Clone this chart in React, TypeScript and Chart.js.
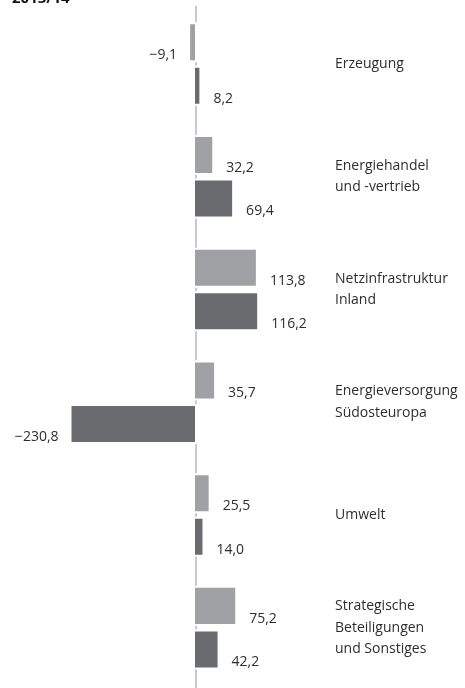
import React, { useEffect, useRef } from "react";
import { Chart, registerables } from "chart.js";

Chart.register(...registerables);

const categories: string[][] = [
  ["Erzeugung"],
  ["Energiehandel", "und -vertrieb"],
  ["Netzinfrastruktur", "Inland"],
  ["Energieversorgung", "Südosteuropa"],
  ["Umwelt"],
  ["Strategische", "Beteiligungen", "und Sonstiges"],
];
const series2012: number[] = [-9.1, 32.2, 113.8, 35.7, 25.5, 75.2];
const series2013: number[] = [8.2, 69.4, 116.2, -230.8, 14.0, 42.2];
const seriesNames: string[] = ["2012/13", "2013/14"];
const titleText = "2013/14";

const LIGHT = "#a0a1a4";
const DARK = "#6a6b6f";
const FONT = "'Open Sans', 'Noto Sans', sans-serif";

function fmt(v: number): string {
  const s = Math.abs(v).toFixed(1).replace(".", ",");
  return v < 0 ? "\u2212" + s : s;
}

export default function App() {
  const ref = useRef<HTMLCanvasElement | null>(null);

  useEffect(() => {
    if (!ref.current) return;
    const decor = {
      id: "decor",
      beforeDatasetsDraw(chart: any) {
        const ctx = chart.ctx;
        const x = chart.scales.x.getPixelForValue(0);
        ctx.save();
        ctx.fillStyle = "#c9c9c9";
        ctx.fillRect(x, 6, 2, 688 - 6);
        ctx.fillStyle = "#ffffff";
        chart.data.datasets.forEach((_: any, di: number) => {
          chart.getDatasetMeta(di).data.forEach((el: any) => {
            const p = el.getProps(["x", "y", "base", "height"], true);
            const l = Math.min(p.x, p.base);
            const r = Math.max(p.x, p.base);
            ctx.fillRect(l - 2, p.y - p.height / 2 - 2, r - l + 6, p.height + 4);
          });
        });
        ctx.restore();
      },
      afterDatasetsDraw(chart: any) {
        const ctx = chart.ctx;
        ctx.save();
        ctx.font = `14px ${FONT}`;
        ctx.fillStyle = "#2e2e2e";
        ctx.textBaseline = "middle";
        chart.data.datasets.forEach((ds: any, di: number) => {
          chart.getDatasetMeta(di).data.forEach((el: any, i: number) => {
            const p = el.getProps(["x", "y", "base", "height"], true);
            const v = ds.data[i] as number;
            const yb = p.y + p.height / 2 - 5;
            if (v >= 0) {
              ctx.textAlign = "left";
              ctx.fillText(fmt(v), p.x + 14, yb);
            } else {
              ctx.textAlign = "right";
              ctx.fillText(fmt(v), p.x - 13, yb);
            }
          });
        });
        // category labels
        ctx.textAlign = "left";
        const lh = 21.5;
        categories.forEach((lines, i) => {
          const cy = chart.scales.y.getPixelForValue(i);
          const start = cy - ((lines.length - 1) * lh) / 2;
          lines.forEach((t, j) => ctx.fillText(t, 335, start + j * lh));
        });
        // title (cut off at top)
        ctx.font = `bold 15px ${FONT}`;
        ctx.fillStyle = "#111111";
        ctx.textBaseline = "alphabetic";
        ctx.fillText(titleText, 12, 3);
        ctx.restore();
      },
    };

    const chart = new Chart(ref.current, {
      type: "bar",
      data: {
        labels: categories.map((c) => c.join(" ")),
        datasets: [
          {
            label: seriesNames[0],
            data: series2012,
            backgroundColor: LIGHT,
            borderWidth: 0,
            categoryPercentage: 0.772,
            barPercentage: 0.828,
          },
          {
            label: seriesNames[1],
            data: series2013,
            backgroundColor: DARK,
            borderWidth: 0,
            categoryPercentage: 0.772,
            barPercentage: 0.828,
          },
        ],
      },
      options: {
        indexAxis: "y",
        animation: false,
        responsive: false,
        maintainAspectRatio: false,
        layout: { padding: { left: 66.6, right: 10, top: 7.6, bottom: 4 } },
        plugins: {
          legend: { display: false },
          tooltip: { enabled: false },
          title: { display: false },
        },
        scales: {
          x: { display: false, min: -240, max: 486 },
          y: { display: false },
        },
      },
      plugins: [decor],
    });
    return () => chart.destroy();
  }, []);

  return (
    <div style={{ position: "absolute", left: 0, top: 0, width: 465, height: 688 }}>
      <canvas ref={ref} width={465} height={688} style={{ display: "block" }} />
    </div>
  );
}
